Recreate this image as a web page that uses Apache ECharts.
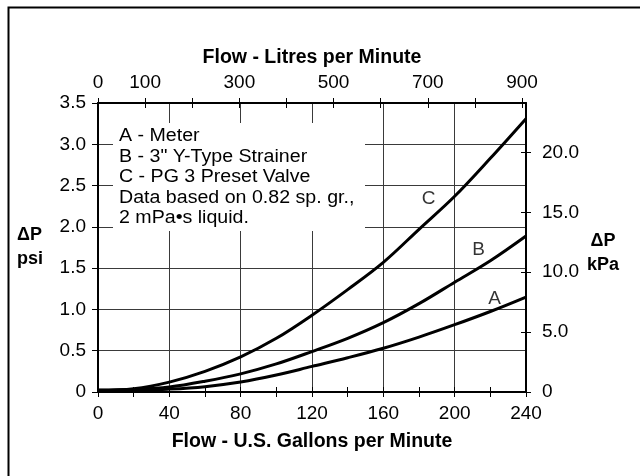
<!DOCTYPE html>
<html>
<head>
<meta charset="utf-8">
<script src="https://cdn.jsdelivr.net/npm/echarts@6/dist/echarts.min.js"></script>
<style>
  html, body { margin: 0; padding: 0; background: #fff; }
  #chart { width: 640px; height: 476px; }
</style>
</head>
<body>
<div id="chart"></div>
<script>
// flow in US gallons per minute, pressure drop in psi
const gpm = [0, 20, 40, 60, 80, 100, 120, 140, 160, 180, 200, 220, 240]
const meterA = [0.02, 0.02, 0.035, 0.065, 0.12, 0.205, 0.31, 0.415, 0.53, 0.665, 0.815, 0.975, 1.15]
const strainerB = [0.02, 0.03, 0.06, 0.13, 0.22, 0.34, 0.49, 0.65, 0.84, 1.07, 1.33, 1.59, 1.89]
const valveC = [0.02, 0.04, 0.12, 0.25, 0.425, 0.65, 0.93, 1.24, 1.57, 1.97, 2.37, 2.83, 3.31]

// curve tags: [gpm, psi, text]
const curveTags = [[222.4, 1.135, 'A'], [213.4, 1.725, 'B'], [185.4, 2.335, 'C']]
const litreLabels = [0, 100, 300, 500, 700, 900]
const noteLines = [
  'A - Meter',
  'B - 3" Y-Type Strainer',
  'C - PG 3 Preset Valve',
  'Data based on 0.82 sp. gr.,',
  '2 mPa\u2022s liquid.',
]

const L_PER_GAL = 3.785
const KPA_PER_PSI = 6.895
const GPM_MAX = 240, PSI_MAX = 3.5

const FONT = "'Liberation Sans', Arial, Helvetica, sans-serif"
const INK = '#000'
const GRID = '#3a3a3a'

const lbl = { color: INK, fontFamily: FONT, fontSize: 19 }
const nameStyle = { color: INK, fontFamily: FONT, fontSize: 19.5, fontWeight: 'bold' }
const axLine = { show: true, onZero: false, lineStyle: { color: INK, width: 2 } }
const tickOut = { show: true, length: 5, lineStyle: { color: INK, width: 1 } }
const tickIn = { show: true, inside: true, length: 5, lineStyle: { color: INK, width: 1 } }
const gridLine = { show: true, lineStyle: { color: GRID, width: 1 } }

// extra axes that only carry the inner half of each tick
const innerTicks = (position, max, interval) => ({
  type: 'value', position, min: 0, max, interval,
  axisLine: { show: false, onZero: false }, axisLabel: { show: false },
  axisTick: tickIn, splitLine: { show: false },
})

const chart = echarts.init(document.getElementById('chart'), null, { renderer: 'canvas' })

const curve = (name, data) => ({
  name, type: 'line', xAxisIndex: 0, yAxisIndex: 0,
  data: gpm.map((g, i) => [g, data[i]]),
  smooth: 0.35, symbol: 'none',
  lineStyle: { color: INK, width: 3 },
  z: 5,
})

const yName = { ...nameStyle, fontSize: 18, lineHeight: 24 }

chart.setOption({
  animation: false,
  backgroundColor: '#fff',
  grid: { left: 98, right: 114, top: 103, bottom: 84 },
  xAxis: [
    { type: 'value', position: 'bottom', min: 0, max: GPM_MAX, interval: 40,
      name: 'Flow - U.S. Gallons per Minute', nameLocation: 'middle', nameGap: 40,
      nameTextStyle: nameStyle,
      axisLine: axLine, axisTick: tickOut,
      minorTick: { show: true, splitNumber: 2, length: 5, lineStyle: { color: INK, width: 1 } },
      axisLabel: { ...lbl, margin: 12 },
      splitLine: gridLine },
    { type: 'value', position: 'top', min: 0, max: GPM_MAX * L_PER_GAL, interval: 100,
      name: 'Flow - Litres per Minute', nameLocation: 'middle', nameGap: 35,
      nameTextStyle: nameStyle,
      axisLine: axLine, axisTick: tickOut,
      axisLabel: { ...lbl, margin: 11, showMaxLabel: false,
        formatter: v => (litreLabels.includes(v) ? String(v) : '') },
      splitLine: { show: false } },
    innerTicks('bottom', GPM_MAX, 20),
    innerTicks('top', GPM_MAX * L_PER_GAL, 100),
  ],
  yAxis: [
    { type: 'value', position: 'left', min: 0, max: PSI_MAX, interval: 0.5,
      name: '\u0394P\npsi', nameLocation: 'middle', nameRotate: 0, nameGap: 81,
      nameTextStyle: { ...yName, align: 'left', verticalAlign: 'middle' },
      axisLine: axLine, axisTick: { ...tickOut, length: 6 },
      axisLabel: { ...lbl, margin: 12, formatter: v => (v === 0 ? '0' : v.toFixed(1)) },
      splitLine: gridLine },
    { type: 'value', position: 'right', min: 0, max: PSI_MAX * KPA_PER_PSI, interval: 5,
      name: '{s| }\n{t|\u0394P}\n{t|kPa}', nameLocation: 'middle', nameRotate: 0, nameGap: 77,
      nameTextStyle: { ...yName, align: 'center', verticalAlign: 'middle',
        rich: { s: { lineHeight: 12, fontSize: 6 }, t: { ...yName } } },
      axisLine: axLine, axisTick: tickOut,
      axisLabel: { ...lbl, margin: 16, showMaxLabel: false,
        formatter: v => (v === 0 ? '0' : v.toFixed(1)) },
      splitLine: { show: false } },
    innerTicks('right', PSI_MAX * KPA_PER_PSI, 5),
  ],
  series: [
    curve('A', meterA),
    curve('B', strainerB),
    curve('C', valveC),
    { type: 'scatter', xAxisIndex: 0, yAxisIndex: 0,
      data: curveTags.map(t => ({ value: [t[0], t[1]], name: t[2] })),
      symbolSize: 1, itemStyle: { color: 'transparent' },
      label: { show: true, position: 'inside', formatter: '{b}', ...lbl },
      z: 6 },
  ],
  graphic: [
    { type: 'rect', left: 6, top: 5, z: 1,
      shape: { x: 0, y: 0, width: 700, height: 600 },
      style: { fill: 'none', stroke: INK, lineWidth: 2 }, silent: true },
    { type: 'rect', z: 50, silent: true,
      shape: { x: 113, y: 123, width: 252, height: 108 },
      style: { fill: '#fff' } },
    { type: 'text', z: 51, silent: true, x: 119, y: 126, scaleX: 1.12,
      style: { text: noteLines.join('\n'), fill: INK, font: `17.5px ${FONT}`,
        lineHeight: 20.5, textVerticalAlign: 'top' } },
  ],
})
</script>
</body>
</html>
